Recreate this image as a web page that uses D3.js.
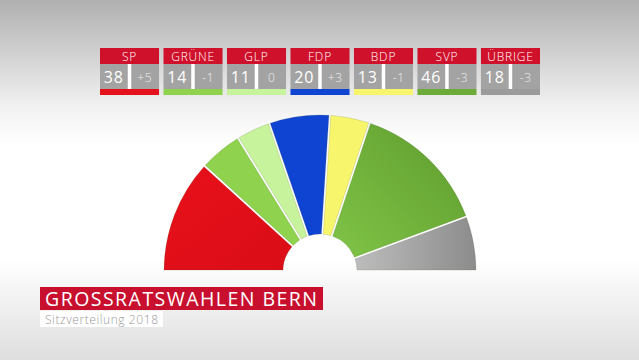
<!DOCTYPE html>
<html>
<head>
<meta charset="utf-8">
<script src="https://cdn.jsdelivr.net/npm/d3@7/dist/d3.min.js"></script>
<style>
html,body{margin:0;padding:0;overflow:hidden;}
svg{display:block;font-family:"Open Sans",Lato,sans-serif;}
</style>
</head>
<body>
<svg width="639" height="360"></svg>
<script>
// data
var parties=['SP','GRÜNE','GLP','FDP','BDP','SVP','ÜBRIGE'];
var seats=[38,14,11,20,13,46,18];
var changes=['+5','-1','0','+3','-1','-3','-3'];
var partyColors=['#e4111b','#8fd24e','#c6f39c','#0f44d2','#f6f56c','#6cab37','#9b9b9b'];
var title='GROSSRATSWAHLEN BERN', subtitle='Sitzverteilung 2018';

var svg=d3.select('svg');
var defs=svg.append('defs');

// background
var bg=defs.append('linearGradient').attr('id','bg').attr('x1',0).attr('y1',0).attr('x2',0).attr('y2',1);
bg.append('stop').attr('offset','0').attr('stop-color','#b0b0b0');
bg.append('stop').attr('offset','0.3').attr('stop-color','#f2f2f2');
bg.append('stop').attr('offset','0.4').attr('stop-color','#ffffff');
bg.append('stop').attr('offset','0.72').attr('stop-color','#ffffff');
bg.append('stop').attr('offset','1').attr('stop-color','#dedede');
svg.append('rect').attr('width',639).attr('height',360).attr('fill','url(#bg)');

var color=d3.scaleOrdinal().domain(parties).range(partyColors);

// shaded fills for the big slices
var gSvp=defs.append('linearGradient').attr('id','g-SVP').attr('x1',0).attr('y1',1).attr('x2',1).attr('y2',0);
gSvp.append('stop').attr('offset','0').attr('stop-color','#80c447');
gSvp.append('stop').attr('offset','1').attr('stop-color','#5e9b2d');
var gUeb=defs.append('linearGradient').attr('id','g-ÜBRIGE').attr('x1',0).attr('y1',0).attr('x2',1).attr('y2',0);
gUeb.append('stop').attr('offset','0').attr('stop-color','#bdbdbd');
gUeb.append('stop').attr('offset','1').attr('stop-color','#8c8c8c');
var gSp=defs.append('linearGradient').attr('id','g-SP').attr('x1',0).attr('y1',0).attr('x2',1).attr('y2',1);
gSp.append('stop').attr('offset','0').attr('stop-color','#e8101a');
gSp.append('stop').attr('offset','1').attr('stop-color','#da0d17');
function fillOf(p){ return (p=='SVP'||p=='ÜBRIGE'||p=='SP') ? 'url(#g-'+p+')' : color(p); }

// legend boxes
var x=d3.scaleBand().domain(parties).range([100,540]).paddingInner(0.07);
var box=svg.selectAll('g.box').data(parties).enter().append('g')
	.attr('class','box').attr('transform',function(d){return 'translate('+x(d)+',0)';});
var bw=x.bandwidth();
box.append('rect').attr('y',48).attr('width',bw).attr('height',16).attr('fill','#d0112b');
box.append('text').attr('x',bw/2).attr('y',60.5).attr('text-anchor','middle')
	.attr('fill','#fff').attr('font-size',12).attr('font-weight',300).attr('letter-spacing',0.8)
	.text(function(d){return d;});
box.append('rect').attr('y',64).attr('width',bw).attr('height',25).attr('fill','#a3a3a3');
box.append('rect').attr('x',bw*0.47).attr('y',64).attr('width',3.5).attr('height',25).attr('fill','#fff');
box.append('text').attr('x',bw*0.235).attr('y',82.5).attr('text-anchor','middle')
	.attr('fill','#fff').attr('font-size',16).attr('letter-spacing',1)
	.text(function(d,i){return seats[i];});
box.append('text').attr('x',bw*0.76).attr('y',82).attr('text-anchor','middle')
	.attr('fill','#eeeeee').attr('font-size',12).attr('font-weight',300).attr('letter-spacing',0.8)
	.text(function(d,i){return changes[i];});
box.append('rect').attr('y',89).attr('width',bw).attr('height',6).attr('fill',function(d){return color(d);});

// half-circle parliament
var cx=320, cy=271;
var pie=d3.pie().sort(null).startAngle(-Math.PI/2).endAngle(Math.PI/2).padAngle(0.012);
var arcs=pie(seats).map(function(a,i){a.party=parties[i];return a;});
var arc=d3.arc().innerRadius(37).outerRadius(156);
svg.append('g').attr('transform','translate('+cx+','+cy+')')
	.selectAll('path').data(arcs).enter().append('path')
	.attr('d',arc).attr('fill',function(d){return fillOf(d.party);})
	.attr('stroke','rgba(60,80,30,0.3)').attr('stroke-width',0.5);

// title block
svg.append('rect').attr('x',40).attr('y',287).attr('width',283).attr('height',23).attr('fill','#c8102e');
svg.append('text').attr('x',45).attr('y',305.5).attr('fill','#fff').attr('font-size',19.5)
	.attr('textLength',272).attr('lengthAdjust','spacing').text(title);
svg.append('rect').attr('x',40).attr('y',311).attr('width',123).attr('height',16).attr('fill','#fff');
svg.append('text').attr('x',45).attr('y',323.5).attr('fill','#9a9a9a').attr('font-size',12)
	.attr('font-weight',300).attr('textLength',113).attr('lengthAdjust','spacing').text(subtitle);
</script>
</body>
</html>
